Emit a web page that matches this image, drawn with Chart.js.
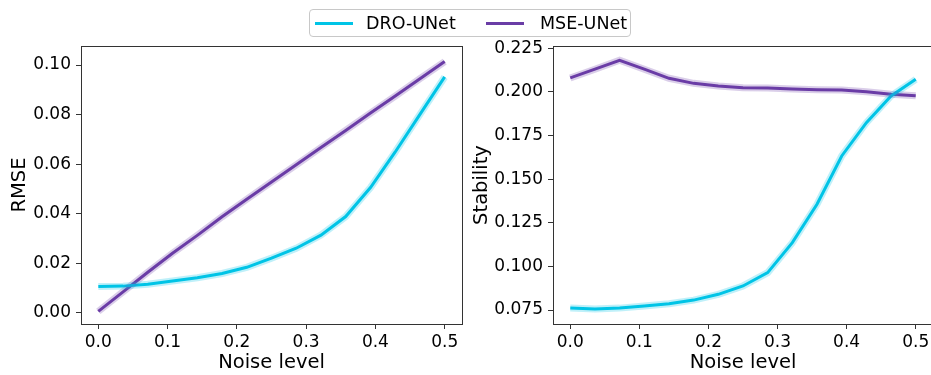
<!DOCTYPE html>
<html>
<head>
<meta charset="utf-8">
<script src="https://cdn.jsdelivr.net/npm/chart.js@4"></script>
<style>
  body { margin: 0; width: 931px; height: 375px; overflow: hidden; background: #fff; font-family: "DejaVu Sans", sans-serif; position: relative; }
  canvas { position: absolute; top: 0; }
  #legend { position: absolute; left: 309px; top: 9px; width: 322px; height: 28px; border: 1px solid #c8c8c8; border-radius: 4px; box-sizing: border-box; }
  .sw { position: absolute; top: 12px; height: 3px; width: 38px; }
  .lb { position: absolute; top: 2px; font-size: 17.5px; color: #000; line-height: 22px; }
</style>
</head>
<body>
<canvas id="rmseChart" width="470" height="375" style="left:0"></canvas>
<canvas id="stabChart" width="470" height="375" style="left:470px"></canvas>
<div id="legend">
  <span class="sw" style="left:5px;background:#00c4e6"></span><span class="lb" style="left:56px">DRO-UNet</span>
  <span class="sw" style="left:176px;background:#6a3da6"></span><span class="lb" style="left:230px">MSE-UNet</span>
</div>
<script>
const noise = [0, 0.0357, 0.0714, 0.1071, 0.1429, 0.1786, 0.2143, 0.25, 0.2857, 0.3214, 0.3571, 0.3929, 0.4286, 0.4643, 0.5];

const rmseDro = [0.0105, 0.0107, 0.0115, 0.0128, 0.0141, 0.0158, 0.0183, 0.0220, 0.0260, 0.0313, 0.0388, 0.0505, 0.0649, 0.0801, 0.0952];
const rmseMse = [0.0005, 0.0084, 0.0163, 0.0240, 0.0312, 0.0387, 0.0458, 0.0528, 0.0597, 0.0667, 0.0736, 0.0806, 0.0875, 0.0945, 0.1014];
const stabDro = [0.0761, 0.0756, 0.0761, 0.0773, 0.0786, 0.0807, 0.0840, 0.0888, 0.0964, 0.1136, 0.1356, 0.1633, 0.1824, 0.1977, 0.2072];
const stabMse = [0.2080, 0.2130, 0.2181, 0.2130, 0.2078, 0.2049, 0.2034, 0.2024, 0.2022, 0.2017, 0.2013, 0.2011, 0.2001, 0.1986, 0.1978];

const xTicks = [0, 0.1, 0.2, 0.3, 0.4, 0.5];
const rmseTicks = [0, 0.02, 0.04, 0.06, 0.08, 0.10];
const stabTicks = [0.075, 0.1, 0.125, 0.15, 0.175, 0.2, 0.225];

const cyan = "#00c4e6";
const purple = "#6a3da6";
const fontFam = "'DejaVu Sans', sans-serif";

const pts = ys => ys.map((y, i) => ({ x: noise[i], y: y }));

const frame = {
  id: "frame",
  afterDraw(chart) {
    const a = chart.chartArea, c = chart.ctx;
    c.save();
    c.strokeStyle = "#333";
    c.lineWidth = 1;
    c.strokeRect(Math.round(a.left) + 0.5, Math.round(a.top) + 0.5, Math.round(a.right - a.left), Math.round(a.bottom - a.top));
    c.restore();
  }
};

function series(label, ys, color, band) {
  return band ? {
    label: label, data: pts(ys), borderColor: color + "40", borderWidth: 7,
    pointRadius: 0, tension: 0, fill: false
  } : {
    label: label, data: pts(ys), borderColor: color, borderWidth: 3,
    pointRadius: 0, tension: 0, fill: false
  };
}

function makeChart(id, dro, mse, yTicks, yMin, yMax, yDec, yTitle, yW, titlePad, padRight) {
  new Chart(document.getElementById(id), {
    type: "line",
    data: {
      datasets: [
        series("DRO band", dro, cyan, true),
        series("MSE band", mse, purple, true),
        series("DRO-UNet", dro, cyan, false),
        series("MSE-UNet", mse, purple, false)
      ]
    },
    options: {
      responsive: false,
      animation: false,
      layout: { padding: { top: 46, right: padRight, left: 0, bottom: 0 } },
      plugins: { legend: { display: false }, tooltip: { enabled: false } },
      scales: {
        x: {
          type: "linear", min: -0.025, max: 0.525,
          afterBuildTicks: s => { s.ticks = xTicks.map(v => ({ value: v })); },
          afterFit: s => { s.height = 51; },
          grid: { drawOnChartArea: false, tickLength: 5, color: "#333" },
          border: { display: false },
          ticks: { color: "#000", padding: 3, font: { family: fontFam, size: 17 }, callback: v => v.toFixed(1) },
          title: { display: true, text: "Noise level", color: "#000", padding: 0, font: { family: fontFam, size: 19.5 } }
        },
        y: {
          min: yMin, max: yMax,
          afterBuildTicks: s => { s.ticks = yTicks.map(v => ({ value: v })); },
          afterFit: s => { s.width = yW; },
          grid: { drawOnChartArea: false, tickLength: 5, color: "#333" },
          border: { display: false },
          ticks: { color: "#000", padding: 5, font: { family: fontFam, size: 17 }, callback: v => v.toFixed(yDec) },
          title: { display: true, text: yTitle, color: "#000", padding: titlePad, font: { family: fontFam, size: 19.5 } }
        }
      }
    },
    plugins: [frame]
  });
}

makeChart("rmseChart", rmseDro, rmseMse, rmseTicks, -0.0046, 0.1077, 2, "RMSE", 81, 8, 8);
makeChart("stabChart", stabDro, stabMse, stabTicks, 0.067, 0.2263, 3, "Stability", 83, 0, 7);
</script>
</body>
</html>
